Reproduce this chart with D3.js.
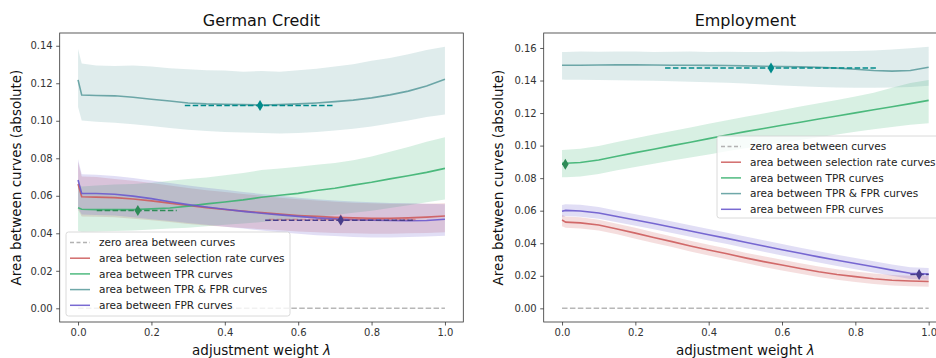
<!DOCTYPE html>
<html><head><meta charset="utf-8">
<script src="https://cdn.jsdelivr.net/npm/d3@7"></script>
<style>body{margin:0;background:#fff}svg{display:block}text{font-family:"DejaVu Sans",sans-serif}</style>
</head><body><svg id="c" width="936" height="358"></svg>
<script>
// ---------- data ----------
const lambdas = [0,0.01,0.05,0.1,0.15,0.2,0.25,0.3,0.35,0.4,0.45,0.5,0.55,0.6,0.65,0.7,0.75,0.8,0.85,0.9,0.95,1.0];
const xTicks = [0,0.2,0.4,0.6,0.8,1.0];
const seriesNames = ["area between selection rate curves","area between TPR curves","area between TPR & FPR curves","area between FPR curves"];
const zeroName = "zero area between curves";
const titles = ["German Credit","Employment"];

// German Credit
const gcSelMean = [0.0663,0.0595,0.0593,0.059,0.0583,0.0573,0.0561,0.0548,0.0537,0.0527,0.0518,0.051,0.0502,0.0495,0.049,0.0485,0.0482,0.048,0.048,0.0482,0.0486,0.0492];
const gcSelHi = [0.078,0.0703,0.07,0.069,0.068,0.0668,0.0655,0.0642,0.063,0.062,0.061,0.06,0.059,0.0582,0.0575,0.0568,0.0563,0.056,0.0558,0.0558,0.0558,0.056];
const gcSelLo = [0.0525,0.049,0.0488,0.0485,0.0478,0.047,0.046,0.045,0.0442,0.0435,0.0428,0.0422,0.0416,0.041,0.0405,0.0402,0.04,0.0398,0.0398,0.04,0.0402,0.0405];
const gcTprMean = [0.0536,0.0528,0.0526,0.0526,0.0527,0.053,0.0535,0.0545,0.0557,0.0567,0.0578,0.0592,0.0603,0.0613,0.0628,0.064,0.0657,0.0672,0.069,0.0707,0.0725,0.0746];
const gcTprHi = [0.066,0.065,0.0655,0.066,0.0663,0.067,0.068,0.069,0.0698,0.071,0.0722,0.0737,0.0745,0.0755,0.0765,0.0775,0.079,0.081,0.0835,0.086,0.0888,0.0912];
const gcTprLo = [0.0412,0.0408,0.041,0.0412,0.0415,0.042,0.0425,0.043,0.0438,0.0445,0.0452,0.046,0.0468,0.0478,0.0488,0.0498,0.051,0.052,0.0535,0.055,0.0565,0.058];
const gcBothMean = [0.1218,0.1137,0.1135,0.1133,0.1125,0.1115,0.1105,0.1095,0.109,0.1088,0.1086,0.1084,0.1086,0.109,0.1095,0.1102,0.111,0.1122,0.1138,0.1158,0.1185,0.1222];
const gcBothHi = [0.1383,0.1305,0.1295,0.1292,0.1295,0.129,0.128,0.1275,0.127,0.1268,0.1262,0.1265,0.1262,0.127,0.1278,0.129,0.1302,0.132,0.1335,0.1355,0.1378,0.1395];
const gcBothLo = [0.1073,0.1002,0.0995,0.099,0.0982,0.0972,0.0962,0.0952,0.0945,0.094,0.0938,0.0935,0.0932,0.0935,0.094,0.0948,0.0958,0.097,0.0985,0.1002,0.102,0.1034];
const gcFprMean = [0.0684,0.0613,0.0612,0.0608,0.0598,0.0585,0.0568,0.0553,0.054,0.0528,0.0517,0.0507,0.0498,0.049,0.0482,0.0477,0.0472,0.047,0.0468,0.0467,0.0468,0.0475];
const gcFprHi = [0.0795,0.0715,0.0712,0.0705,0.0695,0.0682,0.0668,0.0655,0.0643,0.0632,0.062,0.061,0.06,0.059,0.0582,0.0575,0.057,0.0565,0.0562,0.056,0.0558,0.0555];
const gcFprLo = [0.0535,0.05,0.0498,0.0495,0.0485,0.0475,0.0465,0.0455,0.0445,0.0435,0.0425,0.0415,0.0405,0.0397,0.039,0.0385,0.038,0.0378,0.0378,0.038,0.0383,0.0387];
// best points: [lambda, value, lambdaLow, lambdaHigh, valueErr]
const gcBest = [[0.716,0.0474,0.52,0.92,0.001],[0.163,0.0522,0.051,0.269,0.001],[0.496,0.1082,0.291,0.695,0.001],[0.716,0.047,0.51,0.918,0.001]];
const gcYTicks = [0,0.02,0.04,0.06,0.08,0.10,0.12,0.14];

// Employment
const emSelMean = [0.0543,0.053,0.0525,0.0512,0.0488,0.0462,0.0435,0.041,0.0383,0.0358,0.0335,0.031,0.0287,0.0266,0.0245,0.0225,0.0208,0.0195,0.0182,0.0173,0.0168,0.0165];
const emSelHi = [0.0575,0.0565,0.056,0.0545,0.052,0.0495,0.0468,0.0442,0.0416,0.0391,0.0367,0.0342,0.032,0.0298,0.0277,0.0257,0.024,0.0227,0.0214,0.0205,0.02,0.0198];
const emSelLo = [0.0505,0.0495,0.049,0.0478,0.0455,0.0428,0.0402,0.0377,0.035,0.0325,0.0302,0.0278,0.0254,0.0233,0.0212,0.0192,0.0175,0.0162,0.015,0.0141,0.0136,0.0133];
const emTprMean = [0.0891,0.0892,0.0896,0.0912,0.0935,0.0957,0.0978,0.1,0.1021,0.1043,0.1065,0.1086,0.1105,0.1125,0.1144,0.1163,0.1182,0.1201,0.122,0.1239,0.1258,0.1278];
const emTprHi = [0.0973,0.0975,0.098,0.0998,0.1022,0.1045,0.1068,0.109,0.1112,0.1135,0.1156,0.1178,0.1198,0.1219,0.124,0.126,0.128,0.1302,0.1325,0.1355,0.1385,0.1403];
const emTprLo = [0.0805,0.0805,0.081,0.0826,0.0848,0.0868,0.0888,0.0908,0.0927,0.0946,0.0965,0.0983,0.1,0.1018,0.1035,0.1052,0.1068,0.1085,0.11,0.1115,0.1128,0.1137];
const emBothMean = [0.1494,0.1494,0.1494,0.1495,0.1497,0.1496,0.1495,0.1494,0.1494,0.1493,0.1492,0.149,0.1488,0.1486,0.1484,0.1481,0.1476,0.1469,0.1462,0.1458,0.1462,0.1481];
const emBothHi = [0.1575,0.1575,0.1578,0.1577,0.1578,0.1578,0.1576,0.1577,0.1578,0.1576,0.1577,0.1575,0.1576,0.1578,0.1577,0.1578,0.158,0.1582,0.1585,0.159,0.1598,0.1608];
const emBothLo = [0.1407,0.1405,0.1405,0.1403,0.1402,0.14,0.1398,0.1396,0.1393,0.139,0.1386,0.1382,0.1376,0.137,0.1365,0.136,0.1357,0.1355,0.1355,0.1357,0.136,0.1368];
const emFprMean = [0.0597,0.0602,0.0598,0.0586,0.0564,0.0543,0.0521,0.0498,0.0475,0.0452,0.043,0.0406,0.0383,0.036,0.0338,0.0316,0.0295,0.0275,0.0255,0.0235,0.0216,0.021];
const emFprHi = [0.0635,0.064,0.0636,0.0622,0.06,0.0578,0.0556,0.0533,0.051,0.0487,0.0465,0.0441,0.0418,0.0395,0.0373,0.0351,0.033,0.031,0.029,0.027,0.0252,0.0248];
const emFprLo = [0.0562,0.0567,0.0563,0.0551,0.0529,0.0508,0.0486,0.0463,0.044,0.0417,0.0395,0.0371,0.0348,0.0325,0.0303,0.0281,0.026,0.024,0.022,0.02,0.0181,0.0175];
const emBest = [null,[0.009,0.0886,0.0,0.02,0.001],[0.57,0.1477,0.281,0.856,0.001],[0.974,0.0208,0.95,1.0,0.001]];
const emYTicks = [0,0.02,0.04,0.06,0.08,0.10,0.12,0.14,0.16];

// ---------- styles ----------
const lineColors = ["#cd5c5c","#3cb371","#5f9ea0","#6a5acd"];
const markColors = ["#cd5c5c","#2e8b57","#008b8b","#483d8b"];
const zeroColor = "#aaaaaa";

const svg = d3.select("#c");

function panel(opt){
  const g = svg.append("g");
  const x = d3.scaleLinear().domain([-0.05,1.05]).range([opt.left, opt.right]);
  const y = d3.scaleLinear().domain(opt.yDomain).range([opt.bottom, opt.top]);
  const clipId = "clip"+opt.id;
  svg.append("clipPath").attr("id",clipId).append("rect")
     .attr("x",opt.left).attr("y",opt.top).attr("width",opt.right-opt.left).attr("height",opt.bottom-opt.top);
  const plot = g.append("g").attr("clip-path",`url(#${clipId})`);

  const order = [0,1,2,3];
  // bands
  order.forEach(i=>{
    const s = opt.series[i];
    const area = d3.area().x((d,j)=>x(lambdas[j])).y0((d,j)=>y(s.lo[j])).y1((d,j)=>y(s.hi[j]));
    plot.append("path").attr("d",area(lambdas)).attr("fill",lineColors[i]).attr("fill-opacity",0.2);
  });
  // zero line
  plot.append("line").attr("x1",x(0)).attr("x2",x(1)).attr("y1",y(0)).attr("y2",y(0))
     .attr("stroke",zeroColor).attr("stroke-width",1.5).attr("stroke-opacity",0.85).attr("stroke-dasharray","5.5,2.4");
  // mean lines
  order.forEach(i=>{
    const s = opt.series[i];
    const line = d3.line().x((d,j)=>x(lambdas[j])).y((d,j)=>y(s.mean[j]));
    plot.append("path").attr("d",line(lambdas)).attr("fill","none")
       .attr("stroke",lineColors[i]).attr("stroke-width",1.6).attr("stroke-opacity",0.9);
  });
  // best points with dashed error bars
  order.forEach(i=>{
    const b = opt.best[i]; if(!b) return;
    const c = markColors[i];
    const op = i===0 ? 0.5 : 1;
    plot.append("line").attr("x1",x(b[2])).attr("x2",x(b[3])).attr("y1",y(b[1])).attr("y2",y(b[1]))
       .attr("stroke",c).attr("stroke-width",1.5).attr("stroke-dasharray","5.5,2.4").attr("opacity",op);
    plot.append("line").attr("x1",x(b[0])).attr("x2",x(b[0])).attr("y1",y(b[1]-b[4])).attr("y2",y(b[1]+b[4]))
       .attr("stroke",c).attr("stroke-width",1.5).attr("opacity",op);
    plot.append("path").attr("d","M0,-5.5L3.3,0L0,5.5L-3.3,0Z")
       .attr("transform",`translate(${x(b[0])},${y(b[1])})`).attr("fill",c).attr("opacity",op);
  });

  // axes
  const ax = g.append("g").attr("transform",`translate(0,${opt.bottom})`)
    .call(d3.axisBottom(x).tickValues(xTicks).tickFormat(d3.format(".1f")).tickSizeOuter(0).tickSize(3.5).tickPadding(3.5));
  const ay = g.append("g").attr("transform",`translate(${opt.left},0)`)
    .call(d3.axisLeft(y).tickValues(opt.yTicks).tickFormat(d3.format(".2f")).tickSizeOuter(0).tickSize(3.5).tickPadding(3.5));
  [ax,ay].forEach(a=>{
    a.select(".domain").remove();
    a.selectAll(".tick line").attr("stroke","#333").attr("stroke-width",0.8);
    a.selectAll(".tick text").attr("fill","#333").style("font-size","10px").style("font-family","DejaVu Sans");
  });
  g.append("rect").attr("x",opt.left).attr("y",opt.top).attr("width",opt.right-opt.left).attr("height",opt.bottom-opt.top)
    .attr("fill","none").attr("stroke","#333").attr("stroke-width",0.8);

  const cx = (opt.left+opt.right)/2;
  g.append("text").attr("x",cx).attr("y",26).attr("text-anchor","middle").style("font-size","16px").attr("fill","#111").text(opt.title);
  const xl = g.append("text").attr("x",cx).attr("y",355).attr("text-anchor","middle").style("font-size","13.5px").attr("fill","#111");
  xl.append("tspan").text("adjustment weight ");
  xl.append("tspan").style("font-style","italic").text("λ");
  g.append("text").attr("transform",`translate(${opt.ylabelX},${(opt.top+opt.bottom)/2}) rotate(-90)`)
    .attr("text-anchor","middle").style("font-size","13.5px").attr("fill","#111").text("Area between curves (absolute)");

  // legend
  const L = opt.legend;
  const lg = g.append("g");
  lg.append("rect").attr("x",L.x).attr("y",L.y).attr("width",L.w).attr("height",L.h).attr("rx",2.5)
    .attr("fill","#fff").attr("fill-opacity",0.8).attr("stroke","#d0d0d0").attr("stroke-width",0.8);
  const items = [{name:zeroName,color:zeroColor,dash:"4,2.5"}].concat(seriesNames.map((n,i)=>({name:n,color:lineColors[i],dash:null})));
  items.forEach((it,k)=>{
    const yy = L.y+10.5+k*15.7;
    lg.append("line").attr("x1",L.x+4).attr("x2",L.x+24).attr("y1",yy).attr("y2",yy)
      .attr("stroke",it.color).attr("stroke-width",1.5).attr("stroke-dasharray",it.dash).attr("stroke-opacity",0.9);
    lg.append("text").attr("x",L.x+33).attr("y",yy+3.8).style("font-size","10.5px").attr("fill","#222").text(it.name);
  });
}

panel({id:0,left:59.7,right:463.3,top:33,bottom:322,yDomain:[-0.0073,0.1468],yTicks:gcYTicks,
  title:titles[0],ylabelX:21,
  series:[{mean:gcSelMean,hi:gcSelHi,lo:gcSelLo},{mean:gcTprMean,hi:gcTprHi,lo:gcTprLo},{mean:gcBothMean,hi:gcBothHi,lo:gcBothLo},{mean:gcFprMean,hi:gcFprHi,lo:gcFprLo}],
  best:gcBest, legend:{x:66,y:232,w:224,h:84}});
panel({id:1,left:543.7,right:947,top:33,bottom:322,yDomain:[-0.0084,0.1692],yTicks:emYTicks,
  title:titles[1],ylabelX:503,
  series:[{mean:emSelMean,hi:emSelHi,lo:emSelLo},{mean:emTprMean,hi:emTprHi,lo:emTprLo},{mean:emBothMean,hi:emBothHi,lo:emBothLo},{mean:emFprMean,hi:emFprHi,lo:emFprLo}],
  best:emBest, legend:{x:717,y:136,w:224,h:82}});
</script></body></html>
